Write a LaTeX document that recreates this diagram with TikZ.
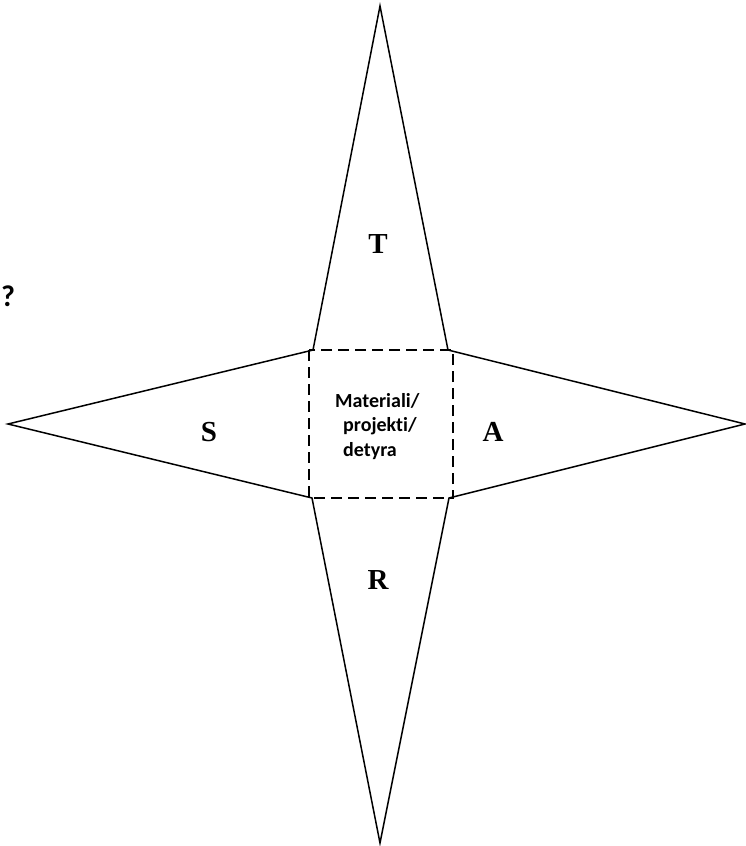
\documentclass[tikz,border=0pt]{standalone}
\usepackage{fontspec}
\setmainfont{Liberation Serif}
\newfontfamily\carlito[Ligatures={NoCommon}]{Carlito}
\tikzset{
  starline/.style={line width=1.5pt, line join=miter},
  sqline/.style={line width=2.6pt, dash pattern=on 11pt off 6pt},
  letter/.style={font=\fontsize{29}{31}\selectfont\bfseries, inner sep=0pt},
  ctext/.style={font=\carlito\fontsize{20}{24}\selectfont\bfseries, inner sep=0pt, anchor=base west}
}
\begin{document}
\begin{tikzpicture}[x=1pt,y=-1pt]
\useasboundingbox (0,0) rectangle (746,846);
\coordinate (top) at (380,6);
\coordinate (tl) at (313,350);
\coordinate (tr) at (448,350);
\coordinate (right) at (745,424);
\coordinate (br) at (449,498);
\coordinate (bottom) at (380,843);
\coordinate (bl) at (312,498);
\coordinate (left) at (8,424);
\draw[starline] (top) -- (tr) -- (right) -- (br) -- (bottom) -- (bl) -- (left) -- (tl) -- cycle;
\coordinate (sq1) at (309,350);
\coordinate (sq2) at (453,498);
\draw[sqline] (sq1) rectangle (sq2);
\node[letter] (T) at (378,244) {T};
\node[letter] (S) at (209,432) {S};
\node[letter] (A) at (493,432) {A};
\node[letter] (R) at (378,580) {R};
\node[ctext] (m1) at (335,407) {Materiali/};
\node[ctext] (m2) at (343,431) {projekti/};
\node[ctext] (m3) at (343,456) {detyra};
\node[font=\carlito\fontsize{30}{32}\selectfont\bfseries, inner sep=0pt, anchor=base west] (q) at (1,306) {?};
\end{tikzpicture}
\end{document}
